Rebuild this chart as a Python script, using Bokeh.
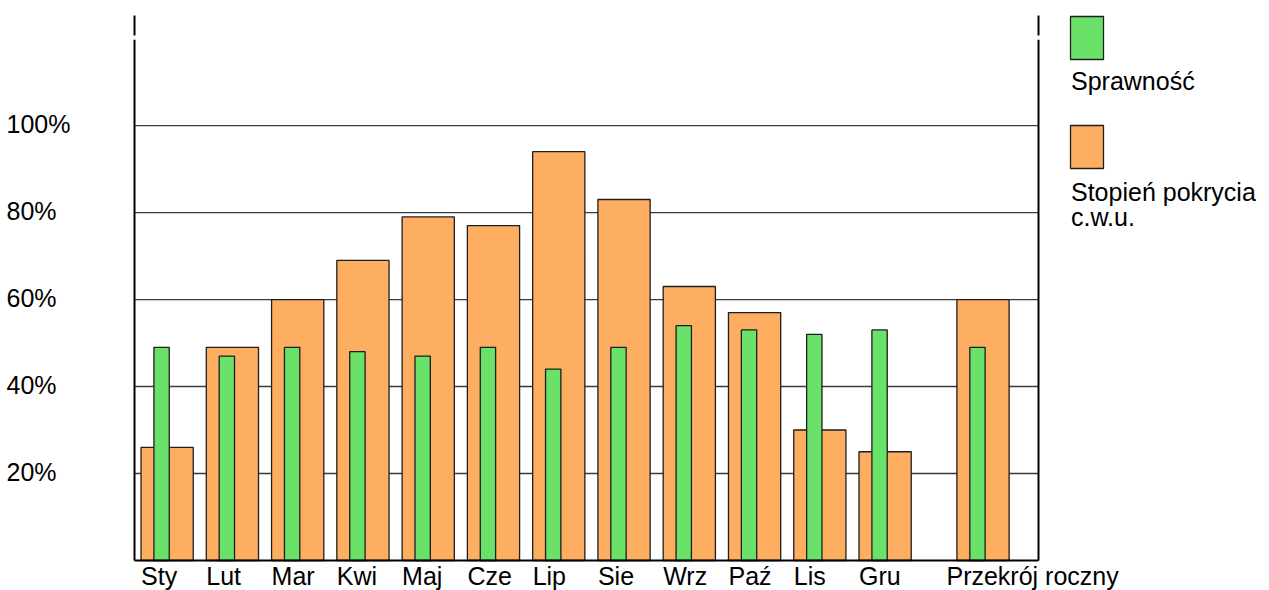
from bokeh.plotting import figure
from bokeh.models import Range1d, ColumnDataSource
from bokeh.embed import file_html
from bokeh.resources import INLINE
from bokeh.core.properties import value

# ---------------- data ----------------
categories = ["Sty", "Lut", "Mar", "Kwi", "Maj", "Cze", "Lip", "Sie", "Wrz",
              "Paź", "Lis", "Gru", "Przekrój roczny"]
sprawnosc = [49, 47, 49, 48, 47, 49, 44, 49, 54, 53, 52, 53, 49]
pokrycie = [26, 49, 60, 69, 79, 77, 94, 83, 63, 57, 30, 25, 60]
y_ticks = [20, 40, 60, 80, 100]
y_tick_labels = ["20%", "40%", "60%", "80%", "100%"]
legend_green = ["Sprawność"]
legend_orange = ["Stopień pokrycia", "c.w.u."]

# ---------------- style / layout ----------------
FONT = "Liberation Sans"
FS = "25px"
GREEN = "#6ae26a"
ORANGE = "#fdae61"
EDGE = "#1e1e1e"
GRID = "#3a3a3a"

W, H = 1269, 590
X_MAX, Y_MAX = 13.85, 125.3          # extent of the plotting area in data units
LEFT_PX, RIGHT_PX = 134, 1038         # plotting area in pixels
TOP_PX, BOTTOM_PX = 15, 560
PX_X = (RIGHT_PX - LEFT_PX) / X_MAX
PX_Y = (BOTTOM_PX - TOP_PX) / Y_MAX
BASE_FIX = 8.5                        # svg alphabetic-baseline correction (px)


def dx(px):
    return (px - LEFT_PX) / PX_X


def dy(py):
    return (BOTTOM_PX - py) / PX_Y


# slot layout: 12 months, then half-slot gap, then the annual value
centres = [i + 0.5 for i in range(12)] + [13.0]
green_x = [c - 0.085 for c in centres]
label_x = [c - 0.4 for c in centres[:-1]] + [centres[-1] - 0.56]

p = figure(width=W, height=H, x_range=Range1d(dx(0), dx(W)), y_range=Range1d(dy(H), dy(0)),
           output_backend="svg", toolbar_location=None, title=None, min_border=0)
p.axis.visible = False
p.grid.visible = False
p.outline_line_color = None

# horizontal grid lines (inside the plotting area only)
p.segment(x0=[0] * len(y_ticks), x1=[X_MAX] * len(y_ticks), y0=y_ticks, y1=y_ticks,
          line_color=GRID, line_width=1.3)

# bars
src = ColumnDataSource(dict(x=centres, gx=green_x, spr=sprawnosc, pok=pokrycie))
p.vbar(x="x", top="pok", bottom=0, width=0.8, source=src, fill_color=ORANGE,
       line_color=EDGE, line_width=1.3)
p.vbar(x="gx", top="spr", bottom=0, width=0.235, source=src, fill_color=GREEN,
       line_color=EDGE, line_width=1.3)

# axis frame: left & right verticals (small break at 120 %), bottom baseline
gap_lo, gap_hi = 119.7, 120.7
p.segment(x0=[0, 0, X_MAX, X_MAX, 0], x1=[0, 0, X_MAX, X_MAX, X_MAX],
          y0=[0, gap_hi, 0, gap_hi, 0], y1=[gap_lo, Y_MAX, gap_lo, Y_MAX, 0],
          line_color="black", line_width=2)

# y tick labels, left aligned near the page edge
p.text(x=[dx(6)] * len(y_ticks), y=y_ticks, y_offset=-1.5, text=y_tick_labels,
       text_align="left", text_baseline="middle",
       text_font=value(FONT), text_font_size=value(FS), text_color="black")

# category labels, left aligned at the bar edges
p.text(x=label_x, y=[dy(584 - BASE_FIX)] * len(categories), text=categories,
       text_align="left", text_baseline="alphabetic",
       text_font=value(FONT), text_font_size=value(FS), text_color="black")

# legend
p.quad(left=[dx(1070)] * 2, right=[dx(1103)] * 2, top=[dy(16), dy(125)], bottom=[dy(59), dy(168)],
       fill_color=[GREEN, ORANGE], line_color=EDGE, line_width=1.3)
legend_text = legend_green + legend_orange
p.text(x=[dx(1070.5)] * 3,
       y=[dy(88.5 - BASE_FIX), dy(200 - BASE_FIX), dy(225 - BASE_FIX)], text=legend_text,
       text_align="left", text_baseline="alphabetic",
       text_font=value(FONT), text_font_size=value(FS), text_color="black")

open("out.html", "w").write(file_html(p, INLINE))
